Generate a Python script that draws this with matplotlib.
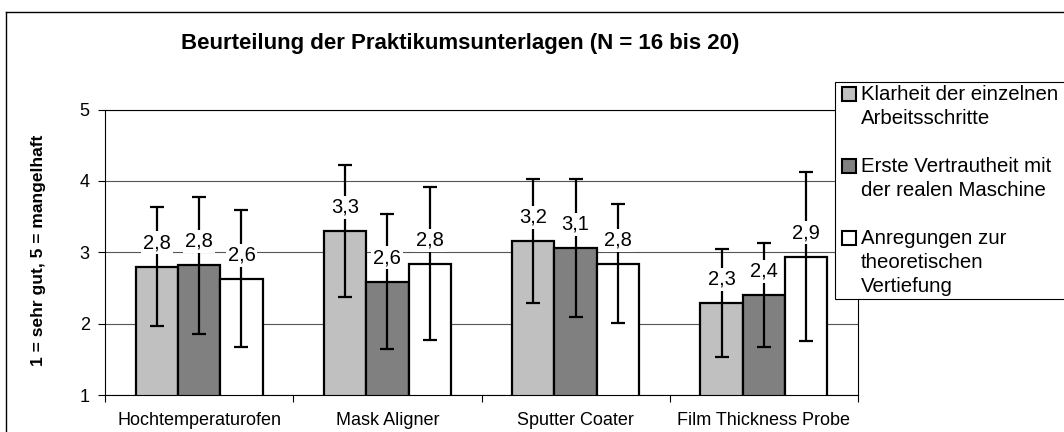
import numpy as np
import matplotlib
matplotlib.use("Agg")
import matplotlib.pyplot as plt
from matplotlib.patches import Rectangle
from matplotlib.lines import Line2D

plt.rcParams['font.family'] = ['Liberation Sans', 'DejaVu Sans']

# Mittelwerte und Standardabweichungen je Geraet
geraete = ["Hochtemperaturofen", "Mask Aligner", "Sputter Coater", "Film Thickness Probe"]
kriterien = ["Klarheit der einzelnen\nArbeitsschritte",
             "Erste Vertrautheit mit\nder realen Maschine",
             "Anregungen zur\ntheoretischen\nVertiefung"]
klarheit = [2.80, 3.30, 3.16, 2.29]
klarheit_sd = [0.84, 0.92, 0.87, 0.76]
vertrautheit = [2.82, 2.59, 3.06, 2.40]
vertrautheit_sd = [0.96, 0.95, 0.97, 0.73]
anregungen = [2.63, 2.84, 2.84, 2.94]
anregungen_sd = [0.96, 1.07, 0.83, 1.18]
y_ticks = [1, 2, 3, 4, 5]

farben = ["#c0c0c0", "#808080", "#ffffff"]

W, H = 1064, 432
fig = plt.figure(figsize=(W / 100, H / 100), dpi=100)


def px(x, y):
    # Pixelkoordinaten (von oben links) -> Figure-Koordinaten
    return x / W, 1 - y / H


ax = fig.add_axes([105 / W, 37 / H, 753 / W, 285.5 / H])

x = np.arange(len(geraete))
breite = 0.225
reihen = [(klarheit, klarheit_sd), (vertrautheit, vertrautheit_sd), (anregungen, anregungen_sd)]
for i, (werte, sd) in enumerate(reihen):
    pos = x + (i - 1) * breite
    ax.bar(pos, werte, width=breite, bottom=0, color=farben[i], edgecolor="black",
           linewidth=1.6, zorder=2)
    ax.errorbar(pos, werte, yerr=sd, fmt="none", ecolor="black", elinewidth=1.6,
                capsize=5, capthick=1.6, zorder=3)
    for xp, v in zip(pos, werte):
        ax.annotate(f"{v:.1f}".replace(".", ","), (xp, v), xytext=(0, 17),
                    textcoords="offset points", ha="center", va="center", fontsize=14.5,
                    bbox=dict(boxstyle="square,pad=0.1", fc="white", ec="none"), zorder=4)

ax.set_xlim(-0.5, len(geraete) - 0.5)
ax.set_ylim(1, 5)
ax.set_yticks(y_ticks)
ax.tick_params(axis="y", labelsize=13, length=5, width=0.8, pad=6)
ax.set_xticks(x)
ax.set_xticklabels(geraete, fontsize=13)
ax.tick_params(axis="x", which="major", length=0, pad=12)
ax.set_xticks(np.arange(len(geraete) + 1) - 0.5, minor=True)
ax.tick_params(axis="x", which="minor", length=5, width=0.8)
ax.yaxis.grid(True, color="#555555", linewidth=0.8, zorder=0)
ax.set_axisbelow(True)
for s in ax.spines.values():
    s.set_linewidth(0.8)
    s.set_color("black")

fig.text(*px(39, 250), "1 = sehr gut, 5 = mangelhaft", rotation=90, ha="center",
         va="center", fontsize=12.5, fontweight="bold")
fig.text(*px(460, 43), "Beurteilung der Praktikumsunterlagen (N = 16 bis 20)",
         ha="center", va="center", fontsize=16, fontweight="bold")

# Legende
lx0, ly0 = px(835, 82)
lx1, ly1 = px(1080, 299)
fig.patches.append(Rectangle((lx0, ly1), lx1 - lx0, ly0 - ly1, transform=fig.transFigure,
                             fc="white", ec="black", lw=0.8, zorder=5))
for k, (label, y0) in enumerate(zip(kriterien, [94, 166, 238])):
    mx, my = px(842, y0 + 7)
    fig.patches.append(Rectangle((mx, my), 14 / W, 14 / H, transform=fig.transFigure,
                                 fc=farben[k], ec="black", lw=1.5, zorder=6))
    fig.text(*px(861, y0 - 9), label, ha="left", va="top", fontsize=14.7,
             linespacing=1.32, zorder=6)

# Rahmen um das Diagramm
fig.add_artist(Line2D([6 / W, 6 / W], [0, 1 - 12 / H], color="black", lw=1))
fig.add_artist(Line2D([6 / W, 1], [1 - 12 / H, 1 - 12 / H], color="black", lw=1))

fig.savefig("out.png", dpi=100)
